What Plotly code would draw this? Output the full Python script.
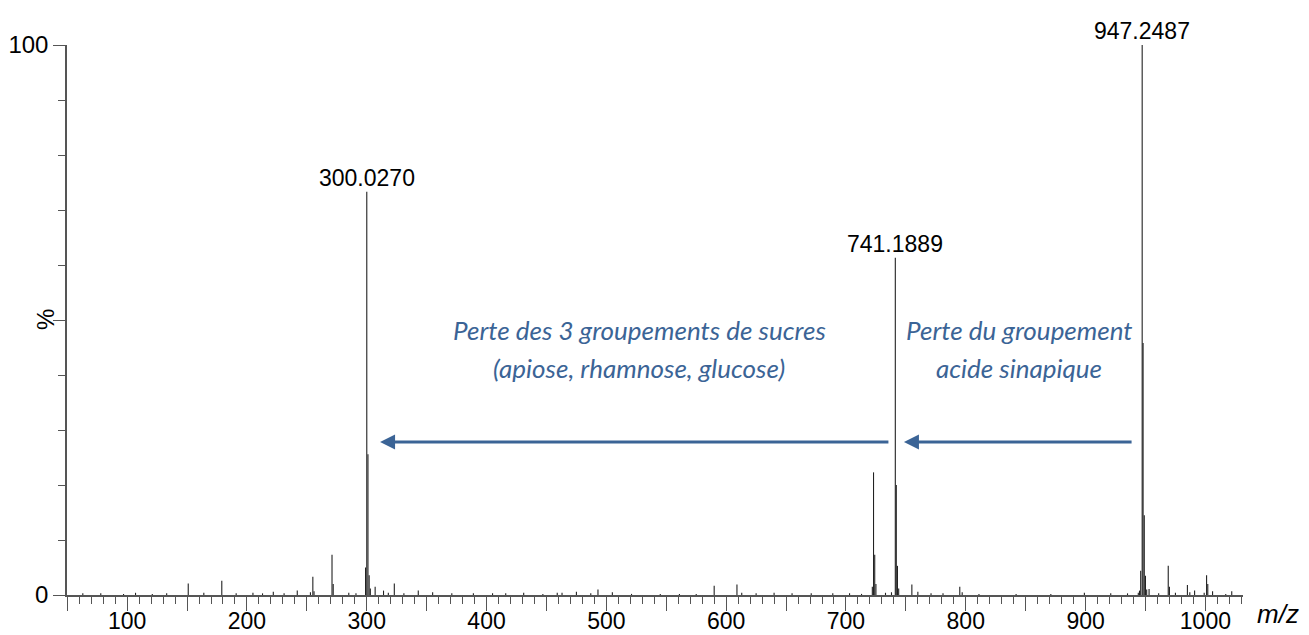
import plotly.graph_objects as go

# ---- data ----
peak_mz = [63, 78, 97, 107, 121, 133, 151, 164, 179, 191, 205, 213, 222, 231, 242,
           253, 255, 256, 271, 272, 285, 291, 299, 300.027, 301, 302, 303, 307, 314,
           318, 323, 331, 343, 355, 371, 389, 405, 416, 431, 447, 459, 463, 475, 487,
           493, 505, 521, 545, 561, 575, 590, 609, 613, 625, 640, 655, 671, 689, 703,
           713, 722, 723, 724, 725, 733, 738, 741.1889, 742, 743, 744, 755, 760, 771,
           781, 795, 797, 811, 842, 871, 899, 921, 935, 944, 945, 946, 947.2487, 948,
           949, 950, 951, 953, 961, 969, 970, 975, 985, 987, 991, 999, 1001, 1002,
           1006, 1017, 1022]
peak_int = [0.3, 0.3, 0.2, 0.4, 0.2, 0.3, 2.1, 0.4, 2.6, 0.3, 0.4, 0.3, 0.6, 0.3, 0.8,
            0.5, 3.3, 0.7, 7.3, 2.0, 0.4, 0.3, 5.0, 73.3, 25.6, 3.6, 1.2, 1.5, 0.8,
            0.4, 2.1, 0.3, 0.8, 0.5, 0.3, 0.3, 0.3, 0.3, 0.4, 0.2, 0.4, 0.4, 0.6, 0.3,
            1.0, 0.5, 0.2, 0.2, 0.2, 0.2, 1.7, 1.9, 0.4, 0.3, 0.4, 0.3, 0.3, 0.3, 0.3,
            0.2, 1.5, 22.3, 7.3, 2.0, 0.4, 0.5, 61.3, 20.0, 5.3, 1.2, 1.9, 0.6, 0.3,
            0.3, 1.5, 0.5, 0.2, 0.2, 0.2, 0.4, 0.3, 0.3, 0.4, 0.8, 4.4, 100.0, 45.8,
            14.5, 3.5, 1.0, 1.1, 0.3, 5.3, 1.5, 0.4, 1.8, 0.5, 0.8, 0.4, 3.6, 2.0,
            0.7, 0.2, 0.7]

label_mz = [300.027, 741.1889, 947.2487]
label_int = [73.3, 61.3, 100.0]
label_text = ["300.0270", "741.1889", "947.2487"]

x_tick_vals = [100, 200, 300, 400, 500, 600, 700, 800, 900, 1000]
y_tick_vals = [0, 100]

loss_lines = [["Perte des 3 groupements de sucres", "(apiose, rhamnose, glucose)"],
              ["Perte du groupement", "acide sinapique"]]

# ---- figure ----
BLUE = "#3B6496"
AXIS = "#555555"
FONT = "Liberation Sans, Arial, sans-serif"

xs, ys = [], []
for m, h in zip(peak_mz, peak_int):
    xs += [m, m, None]
    ys += [0, h, None]

fig = go.Figure()
fig.add_trace(go.Scatter(x=xs, y=ys, mode="lines",
                         line=dict(color="#222222", width=1.1),
                         hoverinfo="skip", showlegend=False))

# peak labels
for m, h, t in zip(label_mz, label_int, label_text):
    fig.add_annotation(x=m, y=h, text=t, showarrow=False, xanchor="center",
                       yanchor="bottom", yshift=-1,
                       font=dict(family=FONT, size=23, color="#000000"))

# loss arrows (tip near the fragment, tail near the precursor)
arrow_y = 27.8
arrows = [(label_mz[0] + 11.1, label_mz[1] - 4.5),
          (label_mz[1] + 7.2, label_mz[2] - 7.6)]
for tip, tail in arrows:
    fig.add_annotation(x=tip, y=arrow_y, ax=tail, ay=arrow_y, axref="x", ayref="y",
                       xref="x", yref="y", text="", showarrow=True,
                       arrowhead=2, arrowsize=1, arrowwidth=3, arrowcolor=BLUE,
                       standoff=0, startstandoff=0)

# loss texts (one annotation per line)
text_x = [527.3, 844.5]
text_y = [48.2, 41.2]
for tx, lines in zip(text_x, loss_lines):
    for ty, t in zip(text_y, lines):
        fig.add_annotation(x=tx, y=ty, text=t, showarrow=False, xanchor="center",
                           yanchor="middle",
                           font=dict(family="Lato, sans-serif", size=26, color=BLUE,
                                     style="italic"))

# axis titles
fig.add_annotation(xref="paper", yref="paper", x=-0.0187, y=0.5, text="%",
                   showarrow=False, textangle=-90, xanchor="center", yanchor="middle",
                   font=dict(family=FONT, size=24, color="#000000"))
fig.add_annotation(xref="paper", yref="paper", x=1.0298, y=-0.035, text="<i>m/z</i>",
                   showarrow=False, xanchor="center", yanchor="middle",
                   font=dict(family=FONT, size=26, color="#000000"))

x_major = list(range(50, 1001, 50))
fig.update_xaxes(range=[49.8, 1031.4], showgrid=False, zeroline=False, automargin=False,
                 showline=True, linecolor=AXIS, linewidth=1.5,
                 tickmode="array", tickvals=x_major,
                 ticktext=[str(v) if v in x_tick_vals else "" for v in x_major],
                 ticks="outside", ticklen=14, tickwidth=1.3, tickcolor=AXIS,
                 ticklabelstandoff=-9,
                 tickfont=dict(family=FONT, size=23, color="#000000"),
                 minor=dict(ticks="outside", ticklen=7, tickwidth=1.2,
                            tickcolor=AXIS, dtick=10, tick0=0, showgrid=False))
fig.update_yaxes(range=[0, 100], showgrid=False, zeroline=False, automargin=False,
                 showline=True, linecolor=AXIS, linewidth=1.5,
                 tickmode="array", tickvals=[0, 50, 100],
                 ticktext=[str(v) if v in y_tick_vals else "" for v in [0, 50, 100]],
                 ticks="outside", ticklen=12, tickwidth=1.3, tickcolor=AXIS,
                 tickfont=dict(family=FONT, size=24, color="#000000"),
                 minor=dict(ticks="outside", ticklen=7, tickwidth=1.2,
                            tickcolor=AXIS, dtick=10, tick0=0, showgrid=False))

fig.update_layout(width=1309, height=635, plot_bgcolor="white", paper_bgcolor="white",
                  margin=dict(l=67, r=66, t=45, b=40), showlegend=False)

fig.write_html("out.html", config={"displayModeBar": False},
               post_script="document.body.style.margin='0';document.body.style.overflow='hidden';")
